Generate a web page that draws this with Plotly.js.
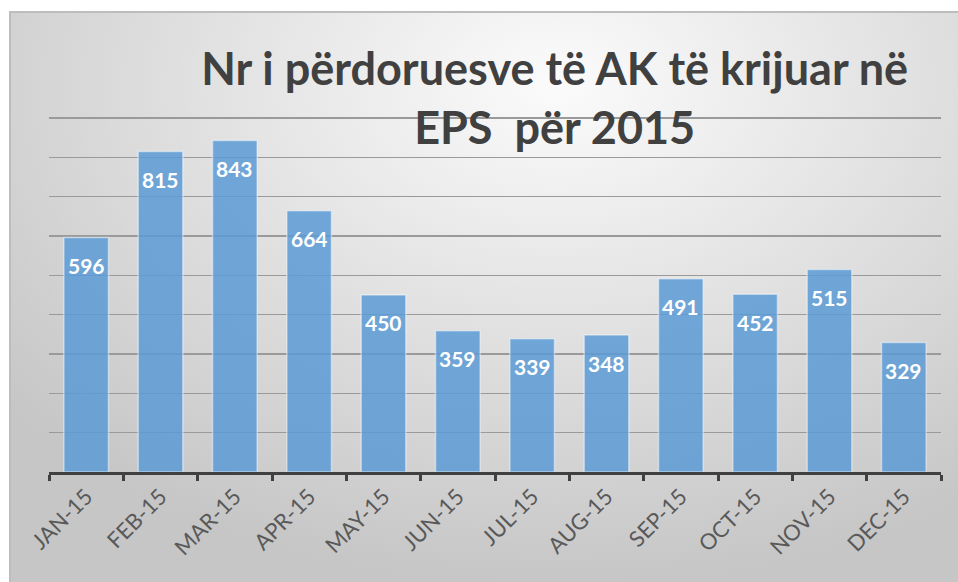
<!DOCTYPE html>
<html>
<head>
<meta charset="utf-8">
<script src="https://cdn.plot.ly/plotly-3.0.1.min.js"></script>
<style>
  html, body { margin: 0; padding: 0; background: #ffffff; width: 958px; height: 582px; overflow: hidden; }
  #frame {
    position: absolute; left: 9px; top: 11px; width: 960px; height: 590px;
    border-left: 2px solid #bdbdbd; border-top: 2px solid #bdbdbd;
    background: radial-gradient(ellipse 75% 85% at 57% 12%, #fbfbfb 0%, #e6e6e6 40%, #d6d6d6 70%, #c6c6c6 100%);
  }
  #chart { position: absolute; left: 0; top: 0; width: 958px; height: 582px; }
</style>
</head>
<body>
<div id="frame"></div>
<div id="chart"></div>
<script>
const months = ["JAN-15","FEB-15","MAR-15","APR-15","MAY-15","JUN-15","JUL-15","AUG-15","SEP-15","OCT-15","NOV-15","DEC-15"];
const users = [596, 815, 843, 664, 450, 359, 339, 348, 491, 452, 515, 329];
const titleText = "Nr i përdoruesve të AK të krijuar në<br>EPS  për 2015";

const trace = {
  type: "bar",
  x: months,
  y: users,
  marker: { color: "rgba(91,155,213,0.85)", line: { color: "rgba(255,255,255,0.45)", width: 1.5 } },
  hoverinfo: "x+y"
};

const labels = months.map((m, i) => ({
  x: m, y: users[i], xref: "x", yref: "y",
  text: String(users[i]), showarrow: false, yshift: -28,
  font: { family: "Lato, 'Open Sans', sans-serif", size: 21, color: "#ffffff", weight: "bold" }
}));

const layout = {
  width: 958, height: 582,
  margin: { l: 49, r: 17, t: 116, b: 110 },
  paper_bgcolor: "rgba(0,0,0,0)",
  plot_bgcolor: "rgba(0,0,0,0)",
  showlegend: false,
  bargap: 0.4,
  title: {
    text: titleText,
    x: 0.579, xref: "container", xanchor: "center",
    y: 1 - 85/582, yref: "container", yanchor: "top",
    font: { family: "Lato, 'Open Sans', sans-serif", size: 45, color: "#404040", weight: "bold" }
  },
  xaxis: {
    type: "category",
    tickangle: -45,
    tickfont: { family: "Lato, 'Open Sans', sans-serif", size: 22, color: "#595959" },
    showline: true, linecolor: "#404040", linewidth: 3,
    ticks: "outside", ticklen: 6, tickwidth: 3, tickcolor: "#404040",
    tickson: "boundaries",
    showgrid: false, zeroline: false
  },
  yaxis: {
    range: [0, 905], dtick: 100, tick0: 0,
    showticklabels: false, showline: false, zeroline: false, ticks: "",
    showgrid: true, gridcolor: "#9a9a9a", gridwidth: 1.5
  },
  annotations: labels
};

Plotly.newPlot("chart", [trace], layout, { displayModeBar: false, staticPlot: true });
</script>
</body>
</html>
